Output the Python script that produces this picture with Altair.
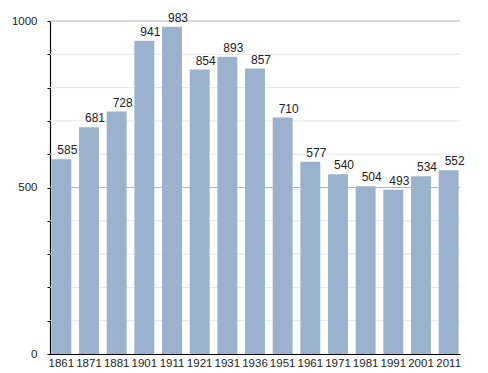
import altair as alt
import pandas as pd

years = ["1861", "1871", "1881", "1901", "1911", "1921", "1931", "1936",
         "1951", "1961", "1971", "1981", "1991", "2001", "2011"]
population = [585, 681, 728, 941, 983, 854, 893, 857, 710, 577, 540, 504, 493, 534, 552]
minor_grid = [100, 200, 300, 400, 600, 700, 800, 900]
major_grid = [500, 1000]

df = pd.DataFrame({"year": years, "pop": population})
minor_df = pd.DataFrame({"v": minor_grid})
major_df = pd.DataFrame({"v": major_grid})

FONT = "Liberation Sans"
yscale = alt.Scale(domain=[0, 1000], nice=False)
yaxis = alt.Axis(values=list(range(0, 1001, 100)),
                 labelExpr="datum.value % 500 === 0 ? format(datum.value, 'd') : ''",
                 labelOverlap=False,
                 grid=False,
                 domainColor="#000", domainWidth=1.2,
                 tickColor="#000", tickSize=3,
                 labelFont=FONT, labelFontSize=11.5, labelColor="#222", labelPadding=10)

x = alt.X("year:N", sort=None, title=None,
          scale=alt.Scale(paddingInner=0.28, paddingOuter=0.05),
          axis=alt.Axis(labelAngle=0, ticks=False, domainColor="#000", domainWidth=1.2,
                        labelFont=FONT, labelFontSize=11.5, labelColor="#222", labelPadding=3))

minor = alt.Chart(minor_df).mark_rule(color="#e6e6e6", strokeWidth=1).encode(
    y=alt.Y("v:Q", scale=yscale, axis=yaxis, title=None))
major = alt.Chart(major_df).mark_rule(color="#b5b5b5", strokeWidth=1).encode(
    y=alt.Y("v:Q", scale=yscale, axis=yaxis, title=None))
bars = alt.Chart(df).mark_bar(color="#9ab2ce").encode(
    x=x, y=alt.Y("pop:Q", scale=yscale, axis=yaxis, title=None))
labels = alt.Chart(df).mark_text(dy=-9, dx=6, font=FONT, fontSize=12, color="#222").encode(
    x=x, y=alt.Y("pop:Q", scale=yscale, axis=yaxis, title=None), text="pop:Q")

chart = (minor + major + bars + labels).properties(
    width=410, height=333,
    autosize=alt.AutoSizeParams(type="none"),
    padding={"left": 42, "top": 13, "right": 10, "bottom": 20},
    background="white",
).configure_view(stroke=None)

chart.save("out.html", embed_options={"renderer": "svg", "actions": False})
